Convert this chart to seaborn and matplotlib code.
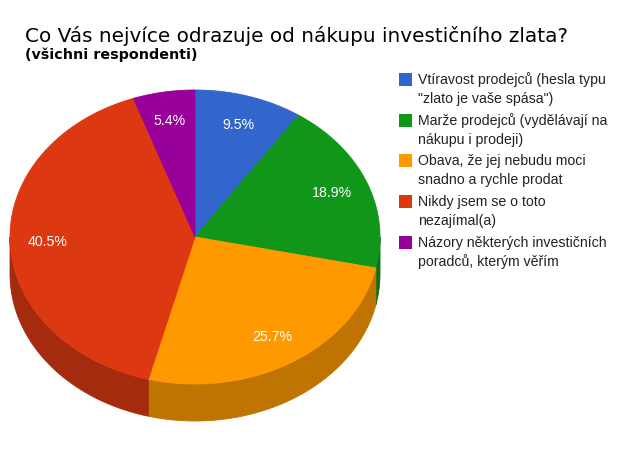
import numpy as np
import matplotlib
matplotlib.use("Agg")
import matplotlib.pyplot as plt
import seaborn as sns
from matplotlib.patches import Polygon, Rectangle

# ---- data ----
categories = [
    "Vtíravost prodejců (hesla typu\n\"zlato je vaše spása\")",
    "Marže prodejců (vydělávají na\nnákupu i prodeji)",
    "Obava, že jej nebudu moci\nsnadno a rychle prodat",
    "Nikdy jsem se o toto\nnezajímal(a)",
    "Názory některých investičních\nporadců, kterým věřím",
]
counts = [7, 14, 19, 30, 4]
title = "Co Vás nejvíce odrazuje od nákupu investičního zlata?"
subtitle = "(všichni respondenti)"

sns.set_theme(style="white")
plt.rcParams['font.family'] = ['DejaVu Sans']

colors = sns.color_palette(["#3366cc", "#109618", "#ff9900", "#dc3912", "#990099"])
side_colors = [tuple(c * 0.75 for c in col) for col in colors]

fig = plt.figure(figsize=(6.18, 4.5), dpi=100)
fig.patch.set_facecolor("white")
ax = fig.add_axes([0, 0, 1, 1])
ax.set_xlim(0, 618)
ax.set_ylim(450, 0)
ax.axis("off")

cx, cy, a, b, depth = 195, 237, 185, 147, 37
vals = np.array(counts, dtype=float)
frac = vals / vals.sum()
edges = np.concatenate([[0], np.cumsum(frac)]) * 2 * np.pi


def pt(phi, dy=0.0):
    return np.column_stack([cx + a * np.sin(phi), cy - b * np.cos(phi) + dy])


# side walls (front half)
for i in range(len(vals)):
    lo = max(edges[i], np.pi / 2)
    hi = min(edges[i + 1], 3 * np.pi / 2)
    if lo < hi:
        ph = np.linspace(lo, hi, 200)
        poly = np.vstack([pt(ph), pt(ph[::-1], depth)])
        ax.add_patch(Polygon(poly, closed=True, facecolor=side_colors[i],
                             edgecolor=side_colors[i], lw=0.6, zorder=1))

# top faces
for i in range(len(vals)):
    ph = np.linspace(edges[i], edges[i + 1], 300)
    poly = np.vstack([[cx, cy], pt(ph)])
    ax.add_patch(Polygon(poly, closed=True, facecolor=colors[i],
                         edgecolor=colors[i], lw=0.6, zorder=2))

# percentage labels
for i in range(len(vals)):
    mid = (edges[i] + edges[i + 1]) / 2
    x = cx + 0.8 * a * np.sin(mid)
    y = cy - 0.8 * b * np.cos(mid)
    ax.text(x, y, f"{frac[i]*100:.1f}%", color="white", fontsize=10.2,
            ha="center", va="center", family=["Liberation Sans", "DejaVu Sans"], zorder=3)

# titles
ax.text(25, 42, title, fontsize=14.4, color="black", ha="left", va="baseline")
ax.text(25, 59, subtitle, fontsize=10.3, fontweight="semibold", color="black",
        ha="left", va="baseline")

# legend
for i, cat in enumerate(categories):
    ytop = 73 + i * 40.7
    ax.add_patch(Rectangle((399, ytop), 13, 13, facecolor=colors[i],
                           edgecolor="none", zorder=3))
    lines = cat.split("\n")
    for j, line in enumerate(lines):
        ax.text(418, ytop + 7 + j * 19, line, fontsize=10.2, color="#222222",
                ha="left", va="center", family=["Liberation Sans", "DejaVu Sans"])

fig.savefig("out.png", dpi=100, facecolor="white")
